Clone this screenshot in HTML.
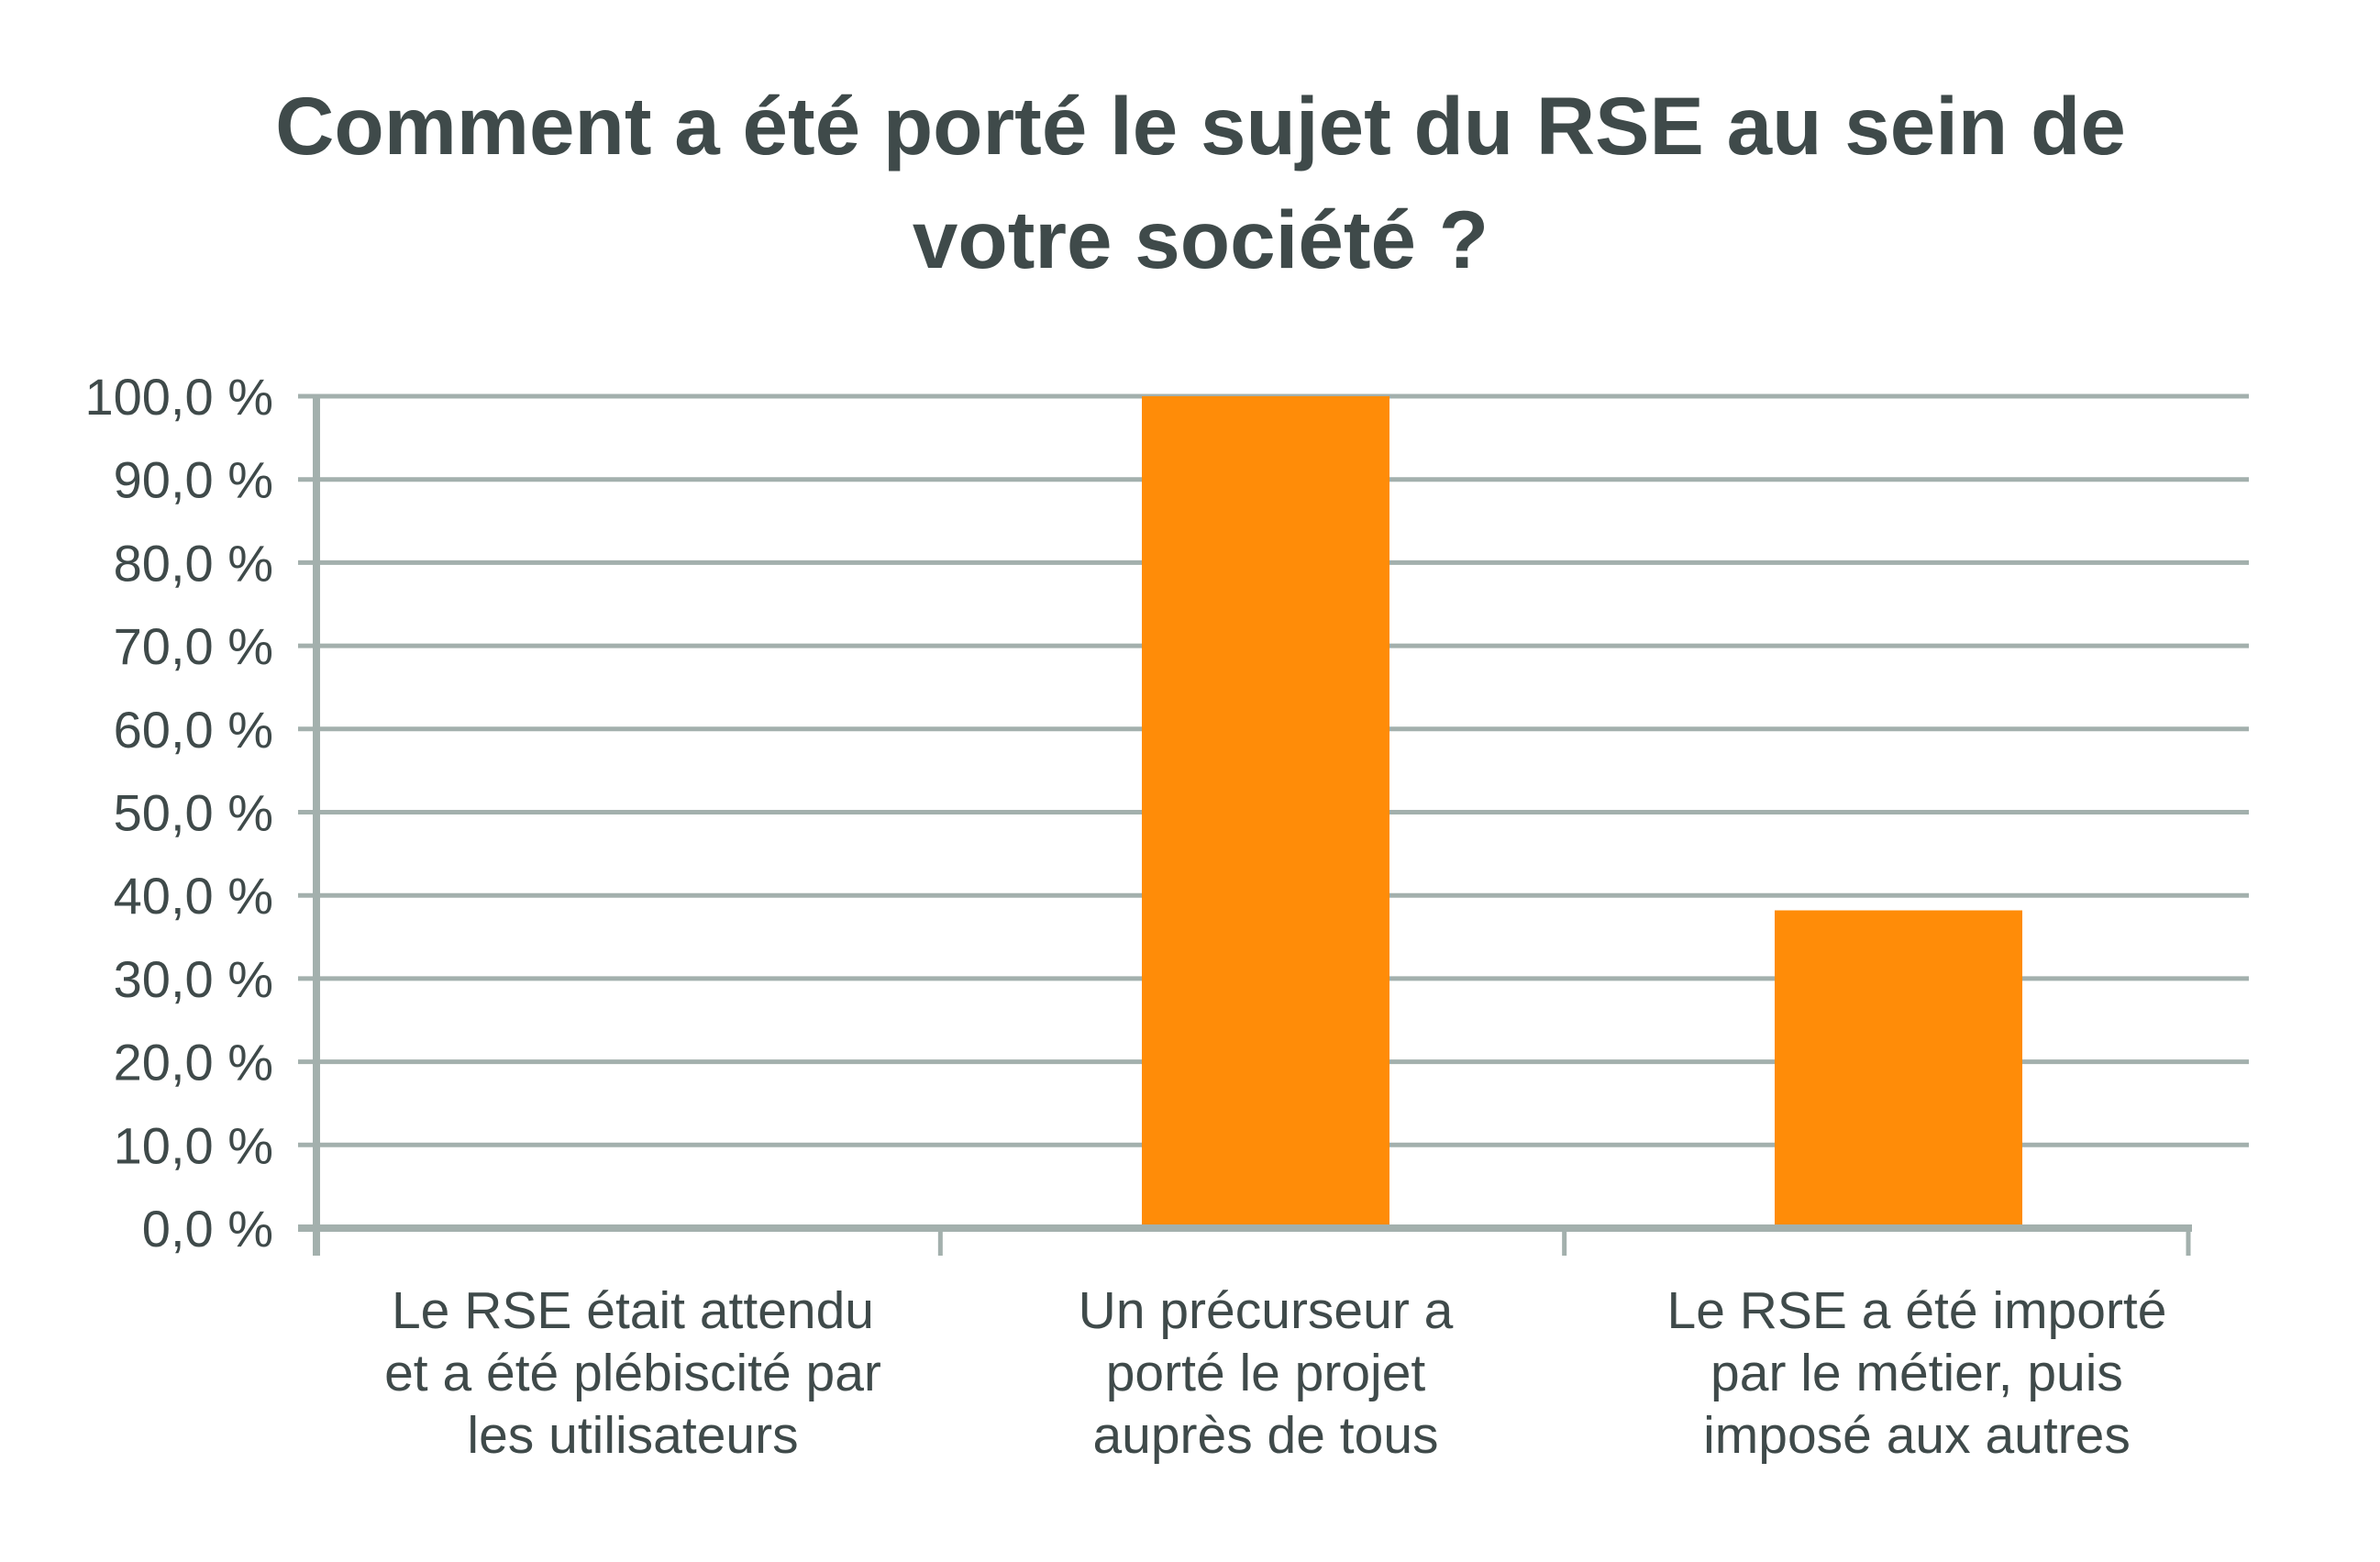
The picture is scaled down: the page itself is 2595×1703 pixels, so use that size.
<!DOCTYPE html>
<html><head><meta charset="utf-8"><style>
html,body{margin:0;padding:0;background:#fff;}
svg{display:block;font-family:"Liberation Sans",Arial,sans-serif;}
</style></head><body>
<svg id="chart" width="2595" height="1703" viewBox="0 0 2595 1703" xmlns="http://www.w3.org/2000/svg">
<rect width="2595" height="1703" fill="#fff"/>
<text x="1309" text-anchor="middle" font-weight="bold" font-size="89" fill="#3f4a4a"><tspan x="1309" y="168">Comment a été porté le sujet du RSE au sein de</tspan><tspan x="1309" y="292">votre société ?</tspan></text>
<g id="grid"></g><g id="bars"></g><g id="axes"></g><g id="labels"></g>
</svg>
<script>
const categories=[["Le RSE était attendu","et a été plébiscité par","les utilisateurs"],["Un précurseur a","porté le projet","auprès de tous"],["Le RSE a été importé","par le métier, puis","imposé aux autres"]];
const values=[0,100,38.2];
const ticks=[0,10,20,30,40,50,60,70,80,90,100];
const tickLabels=["0,0 %","10,0 %","20,0 %","30,0 %","40,0 %","50,0 %","60,0 %","70,0 %","80,0 %","90,0 %","100,0 %"];
const NS="http://www.w3.org/2000/svg";
const y0=1339,y1=432,xL=345,xR=2452,xAxisEnd=2386;
const y=v=>y0-(v/100)*(y0-y1);
const bandStart=345,bandW=690;
const cx=i=>bandStart+bandW*(i+0.5);
const tickX=i=>xL+(xAxisEnd-xL)/3*i;
function mk(t,a,p){const e=document.createElementNS(NS,t);for(const k in a)e.setAttribute(k,a[k]);p.appendChild(e);return e;}
const grid=document.getElementById('grid'),bars=document.getElementById('bars'),axes=document.getElementById('axes'),labels=document.getElementById('labels');
ticks.forEach((t,i)=>{
 if(t>0){const l=mk('line',{x1:xL-20,x2:xR,y1:y(t),y2:y(t),stroke:'#a3b0ad','stroke-width':5},grid);
 
 }
 const tx=mk('text',{x:298,y:y(t)+20,'text-anchor':'end','font-size':56,fill:'#3f4a4a'},labels);
 tx.textContent=tickLabels[i];
 
 
});
values.forEach((v,i)=>{
 if(v<=0)return;
 const r=mk('rect',{x:cx(i)-135,y:y(v),width:270,height:y0-y(v),fill:'#ff8c08'},bars);
 
 
});
const ya=mk('line',{x1:xL,x2:xL,y1:y1,y2:y0+30,stroke:'#a3b0ad','stroke-width':8},axes);


const xa=mk('line',{x1:xL-20,x2:xAxisEnd+4,y1:y0,y2:y0,stroke:'#a3b0ad','stroke-width':8},axes);


for(let i=1;i<=3;i++){
 const tk=mk('line',{x1:tickX(i),x2:tickX(i),y1:y0,y2:y0+30,stroke:'#a3b0ad','stroke-width':5},axes);
 
 
}
categories.forEach((lines,i)=>{
 const t=mk('text',{'text-anchor':'middle','font-size':57,fill:'#3f4a4a'},labels);
 
 
 lines.forEach((s,j)=>{const ts=mk('tspan',{x:cx(i)+(i===2?20:0),y:1448+j*68},t);ts.textContent=s;});
});
</script>
</body></html>
